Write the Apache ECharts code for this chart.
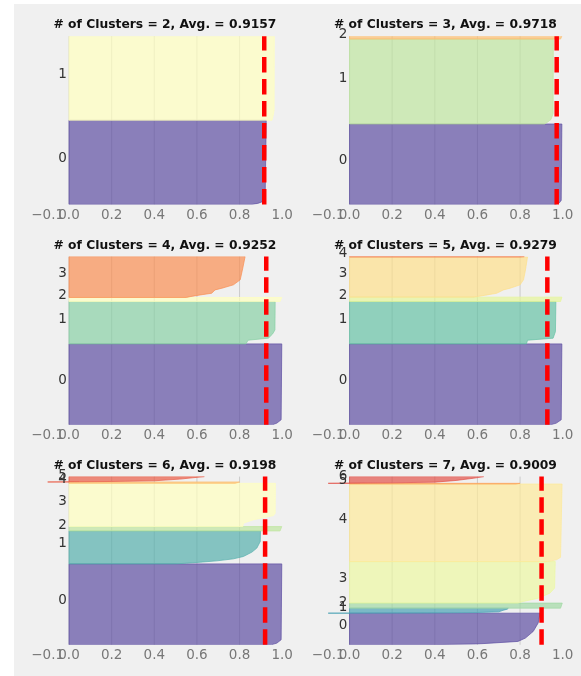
<!DOCTYPE html>
<html><head><meta charset="utf-8">
<script src="https://cdn.jsdelivr.net/npm/echarts@6/dist/echarts.min.js"></script>
<style>html,body{margin:0;padding:0;background:#fff}#c{width:581px;height:676px}</style>
</head><body><div id="c"></div>
<script>
// ---------- data ----------
const clusterCounts = [2, 3, 4, 5, 6, 7];
const avgScores = [0.9157, 0.9718, 0.9252, 0.9279, 0.9198, 0.9009];
const xTickLabels = [-0.1, 0, 0.2, 0.4, 0.6, 0.8, 1.0];
const gridTicks = [0, 0.2, 0.4, 0.6, 0.8];
const yMax = 1000; // sample-rank scale of each panel

// cluster boundaries (sample rank, bottom to top) and sorted silhouette profiles [rank, value]
const k2Bounds = [0, 500, 1000];
const k2Profiles = [
  [[0,0.86],[6,0.885],[15,0.905],[35,0.92],[500,0.925]],
  [[500,0.952],[530,0.958],[560,0.962],[1000,0.963]]
];
const k3Bounds = [0, 478, 983, 1000];
const k3Profiles = [
  [[0,0.965],[10,0.985],[25,0.993],[478,0.996]],
  [[478,0.915],[490,0.93],[505,0.945],[540,0.955],[983,0.956]],
  [[983,0.99],[1000,0.996]]
];
const k4Bounds = [0, 481, 733, 757, 1000];
const k4Profiles = [
  [[0,0.955],[10,0.975],[30,0.995],[481,0.998]],
  [[481,0.83],[503,0.84],[515,0.935],[540,0.955],[564,0.966],[733,0.967]],
  [[733,0.99],[757,0.998]],
  [[757,0.55],[762,0.568],[772,0.615],[782,0.669],[802,0.685],[812,0.717],[832,0.771],[862,0.803],[931,0.815],[1000,0.826]]
];
const k5Bounds = [0, 481, 733, 759, 998, 1000];
const k5Profiles = [
  [[0,0.945],[10,0.97],[30,0.993],[481,0.996]],
  [[481,0.83],[503,0.835],[515,0.955],[554,0.966],[733,0.968]],
  [[733,0.99],[759,0.996]],
  [[759,0.58],[762,0.597],[772,0.644],[782,0.69],[802,0.722],[812,0.753],[832,0.80],[862,0.816],[911,0.824],[998,0.835]],
  [[998,0.8],[1000,0.82]]
];
const k6Bounds = [0, 481, 677, 703, 960, 968, 1000];
const k6Profiles = [
  [[0,0.95],[10,0.975],[30,0.995],[481,0.998]],
  [[481,0.5],[485,0.55],[491,0.615],[499,0.693],[511,0.771],[525,0.818],[551,0.858],[575,0.881],[614,0.897],[677,0.898]],
  [[677,0.99],[703,0.998]],
  [[703,0.815],[723,0.818],[743,0.865],[768,0.959],[782,0.967],[960,0.968]],
  [[960,0.78],[968,0.8]],
  [[968,-0.1],[971,0.2],[975,0.4],[985,0.52],[993,0.58],[1000,0.635]]
];
const k7Bounds = [0, 188, 218, 248, 495, 956, 960, 1000];
const k7Profiles = [
  [[0,0.35],[5,0.6],[20,0.79],[40,0.825],[80,0.862],[130,0.885],[188,0.894]],
  [[188,-0.1],[189,0.38],[192,0.6],[196,0.7],[205,0.72],[212,0.74],[218,0.745]],
  [[218,0.99],[248,0.998]],
  [[248,0.79],[258,0.816],[277,0.886],[307,0.94],[337,0.962],[495,0.965]],
  [[495,0.93],[505,0.97],[520,0.99],[956,0.997]],
  [[956,0.78],[960,0.8]],
  [[960,-0.1],[963,0.2],[967,0.4],[977,0.5],[990,0.58],[1000,0.63]]
];
const allBounds = [k2Bounds, k3Bounds, k4Bounds, k5Bounds, k6Bounds, k7Bounds];
const allProfiles = [k2Profiles, k3Profiles, k4Profiles, k5Profiles, k6Profiles, k7Profiles];

// ---------- style ----------
const spectral = ['#9e0142','#d53e4f','#f46d43','#fdae61','#fee08b','#ffffbf','#e6f598','#abdda4','#66c2a5','#3288bd','#5e4fa2'];
function spectralR(t) {
  const stops = spectral.slice().reverse();
  const p = t * (stops.length - 1);
  const i = Math.min(Math.floor(p), stops.length - 2);
  const f = p - i;
  const a = stops[i], b = stops[i + 1];
  const ch = (h, o) => parseInt(h.substr(o, 2), 16);
  const c = [1, 3, 5].map(o => Math.round(ch(a, o) + (ch(b, o) - ch(a, o)) * f));
  return 'rgb(' + c.join(',') + ')';
}
const colLeft = [47.7, 328.2];
const panelW = 234.5;
const rowTop = [36.2, 256.6, 476.6];
const panelH = 168.2;
const FONT = '"DejaVu Sans", "Liberation Sans", sans-serif';
const fmtTick = v => (v < 0 ? '\u2212' : '') + Math.abs(v).toFixed(1);

const grids = [], xAxes = [], yAxes = [], series = [], graphics = [];
graphics.push({type:'rect', shape:{x:14, y:4, width:567, height:672}, style:{fill:'#f0f0f0'}, z:-100, silent:true});

clusterCounts.forEach((k, gi) => {
  const left = colLeft[gi % 2], top = rowTop[Math.floor(gi / 2)];
  grids.push({left: left, top: top, width: panelW, height: panelH, containLabel: false});
  xAxes.push({
    gridIndex: gi, type: 'value', min: -0.1, max: 1.0, interval: 0.1,
    axisLine: {show: false}, axisTick: {show: false}, splitLine: {show: false},
    axisLabel: {show: false}
  });
  yAxes.push({gridIndex: gi, type: 'value', min: 0, max: yMax, show: false});

  // grid lines
  series.push({
    type: 'custom', xAxisIndex: gi, yAxisIndex: gi, silent: true, z: 1,
    data: gridTicks.map(v => [v]),
    renderItem: (params, api) => {
      const a = api.coord([api.value(0), 0]), b = api.coord([api.value(0), yMax]);
      return {type: 'line', shape: {x1: a[0], y1: a[1], x2: b[0], y2: b[1]},
        style: {stroke: '#cbcbcb', lineWidth: 1}};
    }
  });

  // x tick labels (drawn at the axis scale positions)
  series.push({
    type: 'custom', xAxisIndex: gi, yAxisIndex: gi, silent: true, z: 4, clip: false,
    data: xTickLabels.map(v => [v]),
    renderItem: (params, api) => {
      const c = api.coord([api.value(0), 0]);
      return {type: 'text', x: c[0], y: c[1] + 11,
        style: {text: fmtTick(api.value(0)), fill: '#777', font: '13.5px ' + FONT,
          align: 'center', verticalAlign: 'middle'}};
    }
  });

  // clusters
  const bounds = allBounds[gi], profiles = allProfiles[gi];
  profiles.forEach((pts, ci) => {
    const color = spectralR(ci / k);
    const lo = bounds[ci], hi = bounds[ci + 1];
    series.push({
      type: 'custom', xAxisIndex: gi, yAxisIndex: gi, silent: true, z: 2, clip: true,
      data: pts.map(p => [p[1], p[0]]),
      renderItem: (params, api) => {
        if (params.dataIndex !== 0) return null;
        const poly = [api.coord([0, lo])];
        pts.forEach(p => poly.push(api.coord([p[1], p[0]])));
        poly.push(api.coord([0, hi]));
        return {type: 'polygon', shape: {points: poly},
          style: {fill: color, stroke: color, lineWidth: 1, opacity: 0.7}};
      }
    });
  });

  // cluster labels
  series.push({
    type: 'custom', xAxisIndex: gi, yAxisIndex: gi, silent: true, z: 4, clip: false,
    data: profiles.map((p, ci) => [-0.05, (bounds[ci] + bounds[ci + 1]) / 2, ci]),
    renderItem: (params, api) => {
      const c = api.coord([api.value(0), api.value(1)]);
      return {type: 'text', x: c[0], y: c[1] - 3.5,
        style: {text: String(api.value(2)), fill: '#333', font: '13.5px ' + FONT,
          align: 'left', verticalAlign: 'middle'}};
    }
  });

  // average line
  series.push({
    type: 'line', xAxisIndex: gi, yAxisIndex: gi, silent: true, z: 5,
    symbol: 'none', animation: false,
    data: [[avgScores[gi], 0], [avgScores[gi], yMax]],
    lineStyle: {color: '#ff0000', width: 4.5, type: [15.5, 6.5], cap: 'butt'}
  });

  // title
  graphics.push({type: 'text', x: left + panelW / 2, y: top - 11, silent: true, z: 10,
    style: {text: '# of Clusters = ' + k + ', Avg. = ' + avgScores[gi].toFixed(4),
      fill: '#111', font: 'bold 12.3px ' + FONT, align: 'center', verticalAlign: 'middle'}});
});

const chart = echarts.init(document.getElementById('c'), null, {renderer: 'canvas'});
chart.setOption({
  backgroundColor: '#ffffff',
  animation: false,
  grid: grids, xAxis: xAxes, yAxis: yAxes, series: series, graphic: graphics
});
</script></body></html>
